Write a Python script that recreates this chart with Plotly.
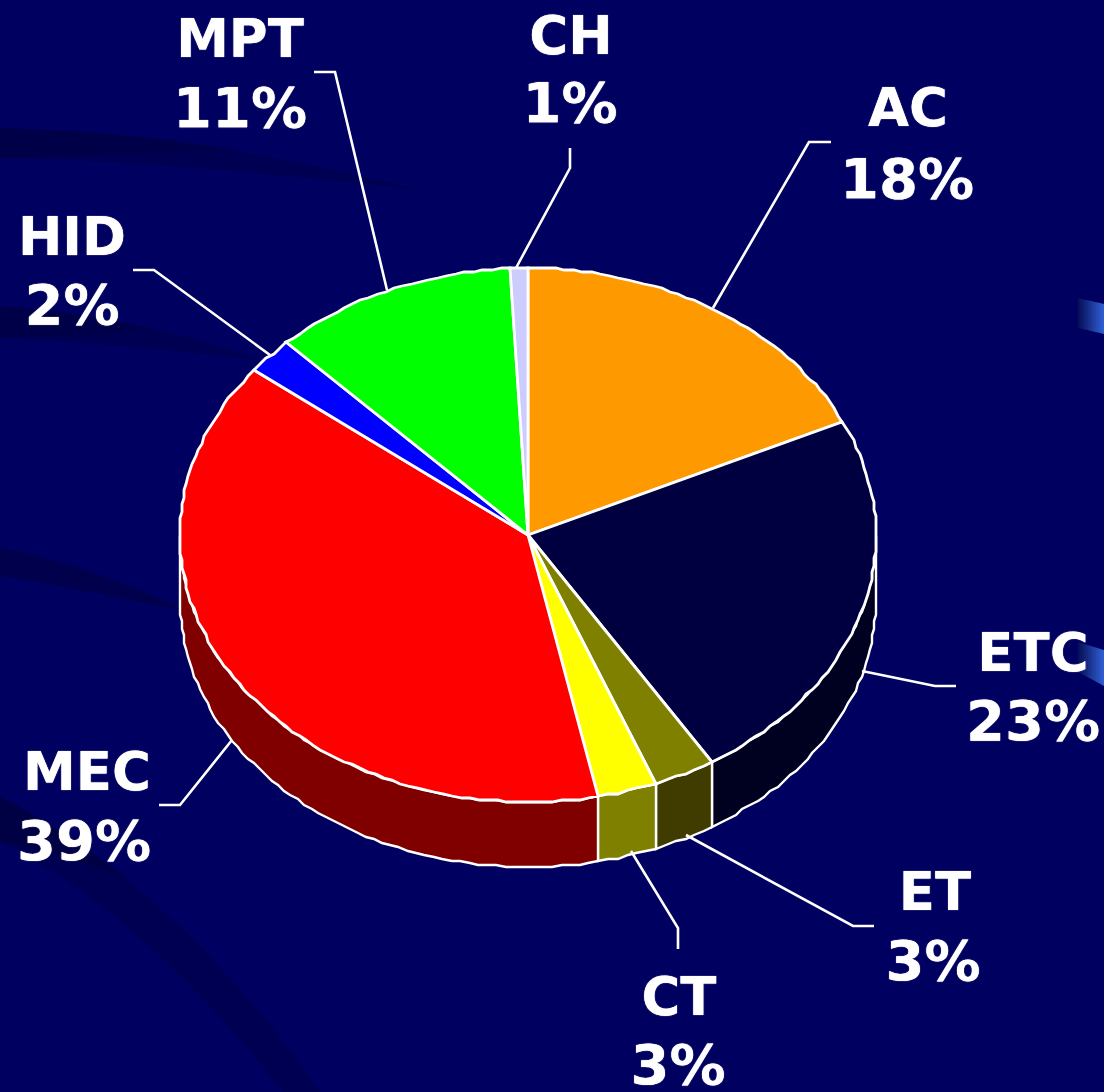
import math
import plotly.graph_objects as go

# ---- data ----
categories = ["AC", "ETC", "ET", "CT", "MEC", "HID", "MPT", "CH"]
values = [18.0, 23.1, 2.9, 2.8, 38.8, 2.2, 11.4, 0.8]
top_colors = ["#FF9900", "#000040", "#808000", "#FFFF00", "#FF0000", "#0000FF", "#00FF00", "#CCCCFF"]
side_colors = ["#804D00", "#000020", "#403C00", "#808000", "#800000", "#000080", "#008000", "#666680"]

# label centres (x, name line y, value line y)
label_x = [908, 1033, 935, 679, 87, 72, 240, 571]
label_x2 = [907, 1033, 933, 678, 84, 72, 240, 570]
label_y1 = [113, 658, 897, 1002, 777, 242, 44, 41]
label_y2 = [184, 726, 966, 1070, 846, 310, 113, 108]

# leader lines
leader_x = [[831, 809, 713], [956, 935, 862], [874, 853, 686], [678, 678, 631],
            [159, 180, 232], [133, 154, 270], [314, 335, 387], [570, 570, 516]]
leader_y = [[142, 142, 308], [686, 686, 671], [926, 926, 835], [949, 928, 851],
            [805, 805, 740], [270, 270, 355], [72, 72, 290], [148, 168, 268]]

# pie geometry
CX, CY, RX, RY, DEPTH = 528, 535, 348, 267, 65
W, H = 1104, 1092
BG = "#000060"
STEP = 1.5   # degrees between outline vertices
GRID = 2.0   # outline wobble, as in the source raster


def snap(v):
    return round(v / GRID) * GRID


def rim(t, dy=0.0):
    r = math.radians(t)
    return snap(CX + RX * math.sin(r)), snap(CY - RY * math.cos(r)) + dy


def arc(a, b, dy=0.0):
    n = max(1, int(abs(b - a) / STEP))
    return [rim(a + (b - a) * i / n, dy) for i in range(n + 1)]


fig = go.Figure()

# slices: cumulative angle from 12 o'clock, clockwise
total = sum(values)
bounds = [0.0]
for v in values:
    bounds.append(bounds[-1] + v / total * 360.0)

# side walls (front half only)
for i, c in enumerate(categories):
    a, b = max(bounds[i], 90.0), min(bounds[i + 1], 270.0)
    if b <= a:
        continue
    pts = arc(a, b) + arc(b, a, DEPTH)
    pts.append(pts[0])
    fig.add_trace(go.Scatter(
        x=[p[0] for p in pts], y=[p[1] for p in pts], mode="lines", fill="toself",
        fillcolor=side_colors[i], line=dict(color="white", width=2.4, simplify=False),
        hoverinfo="skip", showlegend=False))

# top faces
for i, c in enumerate(categories):
    pts = [(CX, CY)] + arc(bounds[i], bounds[i + 1]) + [(CX, CY)]
    fig.add_trace(go.Scatter(
        x=[p[0] for p in pts], y=[p[1] for p in pts], mode="lines", fill="toself",
        fillcolor=top_colors[i], line=dict(color="white", width=2.8, simplify=False),
        name=c, hoverinfo="skip", showlegend=False))

# leader lines
for i, c in enumerate(categories):
    fig.add_trace(go.Scatter(x=leader_x[i], y=leader_y[i], mode="lines",
                             line=dict(color="white", width=2.6),
                             hoverinfo="skip", showlegend=False))

# labels
name_font = dict(family="DejaVu Sans", size=53, color="white", weight=700, shadow="0 0 1px #ffffff")
value_font = dict(family="DejaVu Sans", size=56, color="white", weight=700, shadow="0 0 1px #ffffff")
fig.add_trace(go.Scatter(x=label_x, y=label_y1, mode="text", text=categories,
                         textposition="middle center", textfont=name_font,
                         hoverinfo="skip", showlegend=False))
fig.add_trace(go.Scatter(x=label_x2, y=label_y2, mode="text",
                         text=[f"{round(v)}%" for v in values],
                         textposition="middle center", textfont=value_font,
                         hoverinfo="skip", showlegend=False))

# ---- backdrop decoration ----
shapes = []
bands = [
    ("M0,128 C120,132 240,145 420,190 C300,176 130,160 0,158 Z", 0.25),
    ("M0,128 C100,131 170,138 240,150 C170,152 90,156 0,158 Z", 0.2),
    ("M0,306 C80,312 160,325 260,360 C170,350 80,342 0,338 Z", 0.25),
    ("M0,306 C60,310 110,318 150,330 C100,334 50,336 0,338 Z", 0.2),
    ("M0,548 C60,558 120,580 190,612 C120,598 60,585 0,576 Z", 0.35),
    ("M0,797 C110,850 230,960 320,1092 L283,1092 C200,985 100,890 0,842 Z", 0.25),
    ("M0,797 C50,822 90,850 130,880 C90,865 50,850 0,842 Z", 0.3),
]
for d, alpha in bands:
    shapes.append(dict(type="path", path=d, fillcolor=f"rgba(0,0,40,{alpha})",
                       line=dict(width=0), layer="below"))


def accent(y0a, y1a, y0b, y1b):
    x0, x1 = 1078, 1104
    for k in range(13):
        f = k / 13
        col = f"rgb({int(8 + 42 * f)},{int(16 + 84 * f)},{int(90 + 130 * f)})"
        xa, xb = x0 + 2 * k, x0 + 2 * (k + 1)
        ya0, ya1 = y0a + (y0b - y0a) * f, y1a + (y1b - y1a) * f
        g = (k + 1) / 13
        yb0, yb1 = y0a + (y0b - y0a) * g, y1a + (y1b - y1a) * g
        shapes.append(dict(type="path",
                           path=f"M{xa},{ya0} L{xb},{yb0} L{xb},{yb1} L{xa},{ya1} Z",
                           fillcolor=col, line=dict(width=0), layer="below"))


accent(298, 328, 304, 334)
accent(642, 672, 650, 686)

fig.update_layout(
    width=W, height=H, margin=dict(l=0, r=0, t=0, b=0),
    paper_bgcolor=BG, plot_bgcolor=BG, showlegend=False, shapes=shapes,
    xaxis=dict(range=[0, W], visible=False, fixedrange=True),
    yaxis=dict(range=[H, 0], visible=False, fixedrange=True),
)
fig.write_html(
    "out.html",
    config=dict(displayModeBar=False),
    post_script="document.body.style.margin='0';document.body.style.overflow='hidden';"
                "document.body.style.background='#000060';",
)
